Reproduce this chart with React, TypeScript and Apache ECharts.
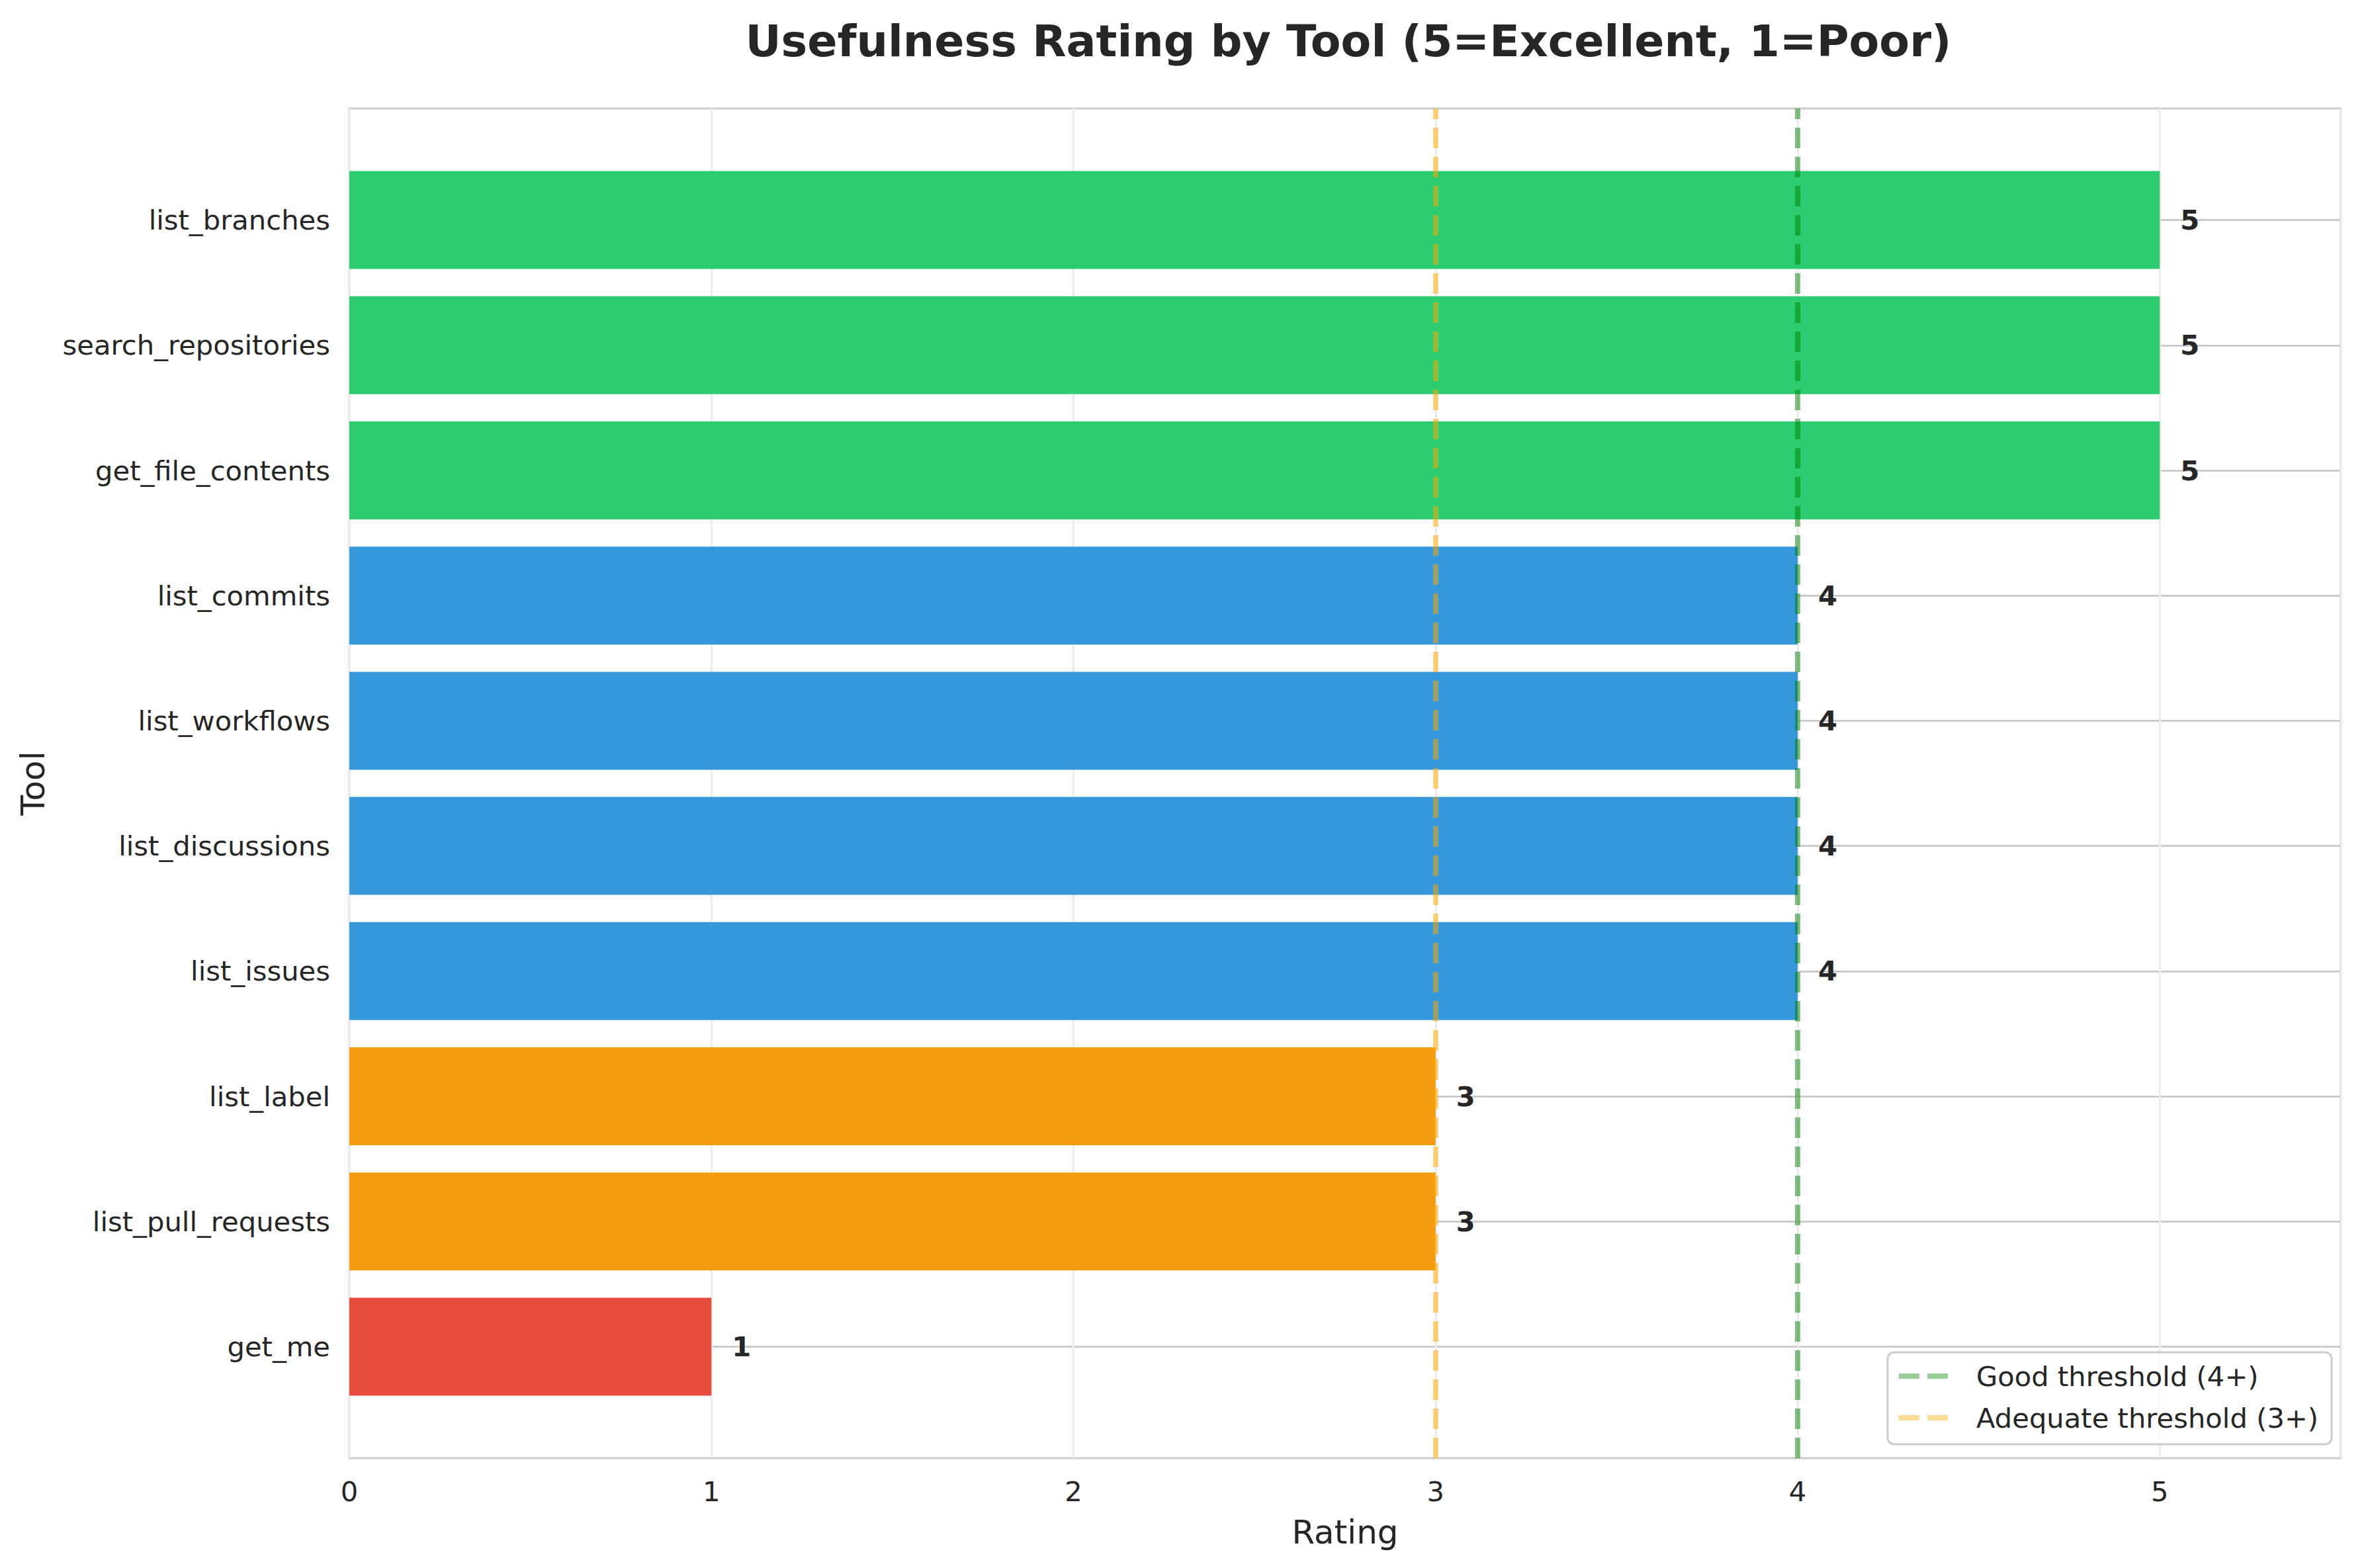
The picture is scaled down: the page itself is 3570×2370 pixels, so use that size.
import React, { useEffect, useRef } from 'react';
import * as echarts from 'echarts';

const tools = [
  'list_branches',
  'search_repositories',
  'get_file_contents',
  'list_commits',
  'list_workflows',
  'list_discussions',
  'list_issues',
  'list_label',
  'list_pull_requests',
  'get_me',
];
const ratings = [5, 5, 5, 4, 4, 4, 4, 3, 3, 1];
const ratingColors: Record<number, string> = {
  5: '#2ecc71',
  4: '#3498db',
  3: '#f39c12',
  2: '#e67e22',
  1: '#e74c3c',
};
const xTicks = [0, 1, 2, 3, 4, 5];
const thresholdNames = ['Good threshold (4+)', 'Adequate threshold (3+)'];
const thresholdValues = [4, 3];
const thresholdColors = ['rgba(0,128,0,0.5)', 'rgba(255,165,0,0.5)'];

const FONT = 'DejaVu Sans';
const TXT = '#262626';

export default function App() {
  const ref = useRef<HTMLDivElement>(null);
  useEffect(() => {
    if (!ref.current) return;
    const chart = echarts.init(ref.current, null, { renderer: 'svg' });
    const legendIcon = 'path://M0,0H31V8H0Z M43,0H74V8H43Z';
    const option: any = {
      animation: false,
      backgroundColor: '#ffffff',
      textStyle: { fontFamily: FONT, color: TXT },
      title: {
        text: 'Usefulness Rating by Tool (5=Excellent, 1=Poor)',
        left: 2033,
        top: 23,
        textAlign: 'center',
        textStyle: { fontFamily: FONT, fontSize: 66.7, fontWeight: 'bold', color: TXT },
      },
      legend: {
        orient: 'vertical',
        left: 2853,
        top: 2044,
        align: 'left',
        itemWidth: 74,
        itemHeight: 8,
        itemGap: 13,
        padding: [11, 20, 15, 17],
        backgroundColor: 'rgba(255,255,255,0.8)',
        borderColor: '#cccccc',
        borderWidth: 3,
        borderRadius: 10,
        textStyle: {
          fontFamily: FONT,
          fontSize: 41.7,
          color: TXT,
          lineHeight: 50,
          padding: [0, 0, 0, 38],
        },
        data: thresholdNames.map((n) => ({ name: n, icon: legendIcon })),
      },
      grid: [
        {
          left: 528,
          top: 164,
          width: 3010,
          height: 2040,
          show: true,
          borderColor: '#cccccc',
          borderWidth: 3,
          backgroundColor: 'transparent',
          containLabel: false,
        },
        {
          left: 528,
          top: 238,
          width: 3010,
          height: 1892,
          containLabel: false,
        },
      ],
      xAxis: [
        {
          gridIndex: 0,
          type: 'value',
          min: 0,
          max: 5.5,
          interval: 1,
          name: 'Rating',
          nameLocation: 'middle',
          nameGap: 87,
          nameTextStyle: { fontFamily: FONT, fontSize: 50, color: TXT },
          axisLine: { show: false },
          axisTick: { show: false },
          axisLabel: {
            fontFamily: FONT,
            fontSize: 41.7,
            color: TXT,
            margin: 29,
            formatter: (v: number) => (xTicks.includes(v) ? String(v) : ''),
          },
          splitLine: { show: true, lineStyle: { color: '#ececec', width: 3 } },
        },
        {
          gridIndex: 1,
          type: 'value',
          min: 0,
          max: 5.5,
          show: false,
          splitLine: { show: false },
        },
      ],
      yAxis: [
        {
          gridIndex: 0,
          type: 'value',
          min: 0,
          max: 1,
          show: false,
          splitLine: { show: false },
        },
        {
          gridIndex: 1,
          type: 'category',
          data: tools,
          inverse: true,
          name: 'Tool',
          nameLocation: 'middle',
          nameGap: 453,
          nameTextStyle: { fontFamily: FONT, fontSize: 50, color: TXT },
          axisLine: { show: false },
          axisTick: { show: false },
          axisLabel: { fontFamily: FONT, fontSize: 41.7, color: TXT, margin: 29 },
          splitLine: {
            show: true,
            alignWithLabel: true,
            lineStyle: { color: '#cccccc', width: 3 },
          },
        },
      ],
      series: [
        {
          type: 'bar',
          xAxisIndex: 1,
          yAxisIndex: 1,
          barWidth: 148,
          z: 2,
          data: ratings.map((r) => ({ value: r, itemStyle: { color: ratingColors[r] } })),
          label: {
            show: true,
            position: 'right',
            distance: 31,
            fontFamily: FONT,
            fontSize: 41.7,
            fontWeight: 'bold',
            color: TXT,
          },
        },
        ...thresholdNames.map((n, i) => ({
          type: 'scatter',
          name: n,
          xAxisIndex: 0,
          yAxisIndex: 0,
          data: [],
          z: 5,
          itemStyle: { color: thresholdColors[i] },
          markLine: {
            silent: true,
            symbol: ['none', 'none'],
            label: { show: false },
            lineStyle: { color: thresholdColors[i], width: 8, type: [31, 13] },
            data: [{ xAxis: thresholdValues[i] }],
          },
        })),
      ],
    };
    chart.setOption(option);
    return () => chart.dispose();
  }, []);
  return (
    <div
      ref={ref}
      style={{ position: 'absolute', left: 0, top: 0, width: 3570, height: 2370 }}
    />
  );
}
